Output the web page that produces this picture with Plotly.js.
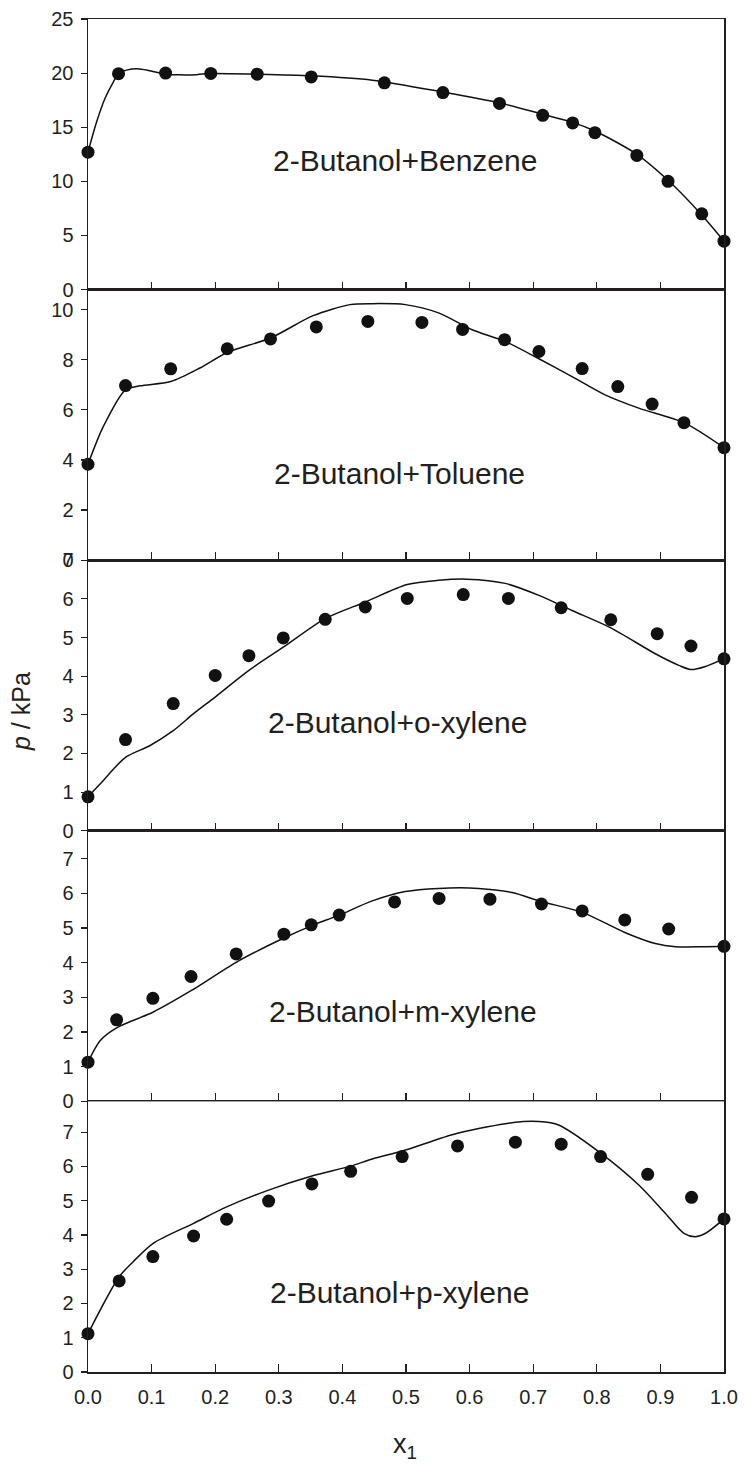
<!DOCTYPE html>
<html>
<head>
<meta charset="utf-8">
<script src="https://cdn.plot.ly/plotly-3.0.1.min.js"></script>
<style>
  html, body { margin: 0; padding: 0; background: #fff; }
  #chart { width: 744px; height: 1464px; }
</style>
</head>
<body>
<div id="chart"></div>
<script>
// ---- Data ----
const systemNames = ["2-Butanol+Benzene", "2-Butanol+Toluene", "2-Butanol+o-xylene", "2-Butanol+m-xylene", "2-Butanol+p-xylene"];
const xTickVals = [0, 0.1, 0.2, 0.3, 0.4, 0.5, 0.6, 0.7, 0.8, 0.9, 1.0];
const xTickText = ["0.0", "0.1", "0.2", "0.3", "0.4", "0.5", "0.6", "0.7", "0.8", "0.9", "1.0"];

// Benzene
const benzeneX = [0.0, 0.048, 0.122, 0.193, 0.266, 0.351, 0.466, 0.558, 0.647, 0.715, 0.762, 0.797, 0.863, 0.912, 0.965, 1.0];
const benzeneP = [12.7, 19.95, 20.0, 19.97, 19.9, 19.65, 19.1, 18.2, 17.2, 16.1, 15.4, 14.5, 12.4, 10.0, 7.0, 4.47];
const benzeneFitX = [0.0, 0.0136, 0.027, 0.040, 0.049, 0.062, 0.077, 0.095, 0.122, 0.145, 0.171, 0.193, 0.266, 0.351, 0.447, 0.558, 0.647, 0.715, 0.762, 0.797, 0.863, 0.912, 0.965, 1.0];
const benzeneFitP = [12.7, 15.5, 17.7, 19.2, 20.0, 20.3, 20.4, 20.25, 19.9, 19.84, 19.86, 19.97, 19.9, 19.75, 19.35, 18.25, 17.25, 16.2, 15.45, 14.65, 12.5, 10.1, 6.9, 4.47];

// Toluene
const tolueneX = [0.0, 0.059, 0.130, 0.219, 0.287, 0.359, 0.440, 0.525, 0.589, 0.655, 0.709, 0.777, 0.833, 0.887, 0.937, 1.0];
const tolueneP = [3.83, 6.97, 7.64, 8.44, 8.83, 9.31, 9.53, 9.49, 9.21, 8.8, 8.33, 7.65, 6.93, 6.23, 5.49, 4.49];
const tolueneFitX = [0.0, 0.024, 0.059, 0.082, 0.130, 0.176, 0.219, 0.287, 0.354, 0.412, 0.447, 0.499, 0.551, 0.604, 0.656, 0.709, 0.761, 0.813, 0.866, 0.937, 1.0];
const tolueneFitP = [3.83, 5.33, 6.8, 6.96, 7.13, 7.67, 8.29, 8.87, 9.76, 10.2, 10.24, 10.2, 9.87, 9.2, 8.73, 8.04, 7.33, 6.6, 6.07, 5.49, 4.49];

// o-xylene
const oXyleneX = [0.0, 0.059, 0.134, 0.200, 0.253, 0.307, 0.373, 0.436, 0.502, 0.590, 0.661, 0.744, 0.822, 0.895, 0.948, 1.0];
const oXyleneP = [0.88, 2.36, 3.29, 4.02, 4.53, 4.99, 5.47, 5.79, 6.01, 6.11, 6.01, 5.77, 5.46, 5.10, 4.78, 4.45];
const oXyleneFitX = [0.0, 0.019, 0.059, 0.097, 0.134, 0.166, 0.200, 0.253, 0.307, 0.373, 0.436, 0.502, 0.551, 0.596, 0.656, 0.709, 0.761, 0.822, 0.892, 0.929, 0.948, 0.971, 1.0];
const oXyleneFitP = [0.88, 1.21, 1.90, 2.2, 2.59, 3.03, 3.46, 4.15, 4.75, 5.49, 5.92, 6.37, 6.48, 6.51, 6.40, 6.09, 5.70, 5.25, 4.58, 4.28, 4.17, 4.25, 4.45];

// m-xylene
const mXyleneX = [0.0, 0.045, 0.102, 0.162, 0.233, 0.308, 0.351, 0.395, 0.482, 0.552, 0.632, 0.713, 0.777, 0.844, 0.913, 1.0];
const mXyleneP = [1.13, 2.35, 2.97, 3.60, 4.25, 4.82, 5.09, 5.37, 5.75, 5.85, 5.83, 5.69, 5.49, 5.23, 4.97, 4.47];
const mXyleneFitX = [0.0, 0.019, 0.045, 0.102, 0.162, 0.233, 0.308, 0.351, 0.395, 0.447, 0.499, 0.551, 0.614, 0.667, 0.713, 0.777, 0.844, 0.892, 0.924, 0.971, 1.0];
const mXyleneFitP = [1.13, 1.75, 2.12, 2.57, 3.19, 4.01, 4.71, 5.06, 5.37, 5.78, 6.05, 6.14, 6.14, 6.02, 5.76, 5.45, 4.87, 4.55, 4.46, 4.46, 4.47];

// p-xylene
const pXyleneX = [0.0, 0.049, 0.102, 0.166, 0.218, 0.284, 0.352, 0.413, 0.494, 0.581, 0.672, 0.744, 0.806, 0.880, 0.949, 1.0];
const pXyleneP = [1.12, 2.66, 3.37, 3.97, 4.46, 4.99, 5.49, 5.86, 6.29, 6.60, 6.71, 6.65, 6.29, 5.77, 5.10, 4.47];
const pXyleneFitX = [0.0, 0.049, 0.071, 0.102, 0.166, 0.218, 0.284, 0.352, 0.413, 0.447, 0.494, 0.581, 0.672, 0.709, 0.740, 0.806, 0.866, 0.908, 0.937, 0.955, 0.971, 1.0];
const pXyleneFitP = [1.12, 2.78, 3.22, 3.75, 4.34, 4.82, 5.31, 5.72, 6.01, 6.22, 6.45, 6.97, 7.29, 7.31, 7.21, 6.39, 5.46, 4.63, 4.05, 3.95, 4.05, 4.47];

// y-axis ranges and tick steps per panel (top to bottom)
const yRanges = [[0, 25], [0, 10.8], [0, 7], [0, 7.8], [0, 7.9]];
const yDticks = [5, 2, 1, 1, 1];

const expX = [benzeneX, tolueneX, oXyleneX, mXyleneX, pXyleneX];
const expP = [benzeneP, tolueneP, oXyleneP, mXyleneP, pXyleneP];
const fitX = [benzeneFitX, tolueneFitX, oXyleneFitX, mXyleneFitX, pXyleneFitX];
const fitP = [benzeneFitP, tolueneFitP, oXyleneFitP, mXyleneFitP, pXyleneFitP];

// label positions (data coords) for each panel annotation
const labelPos = [[0.498, 11.9], [0.489, 3.48], [0.486, 2.79], [0.495, 2.59], [0.49, 2.32]];

// ---- Build chart ----
const FONT = "Liberation Sans, Arial, Helvetica, sans-serif";
const AXC = "#231f20";
const traces = [];
const layout = {
  width: 744, height: 1464,
  margin: {l: 88, r: 20, t: 19, b: 92},
  paper_bgcolor: "#fff", plot_bgcolor: "#fff",
  showlegend: false,
  font: {family: FONT, color: AXC, size: 20},
  annotations: []
};

for (let i = 0; i < 5; i++) {
  const n = i + 1;
  const xa = n === 1 ? "x" : "x" + n;
  const ya = n === 1 ? "y" : "y" + n;
  const xKey = n === 1 ? "xaxis" : "xaxis" + n;
  const yKey = n === 1 ? "yaxis" : "yaxis" + n;
  traces.push({
    x: fitX[i], y: fitP[i], xaxis: xa, yaxis: ya, type: "scatter", mode: "lines",
    line: {color: "#111", width: 1.5, shape: "spline", smoothing: 0.8},
    cliponaxis: false, hoverinfo: "skip"
  });
  traces.push({
    x: expX[i], y: expP[i], xaxis: xa, yaxis: ya, type: "scatter", mode: "markers",
    marker: {color: "#111", size: 13, line: {width: 0}},
    cliponaxis: false
  });
  const top = 1 - i * 0.2;
  const bottom = top - 0.2;
  layout[yKey] = {
    domain: [Math.max(0, bottom), Math.min(1, top)],
    anchor: xa,
    range: yRanges[i],
    dtick: yDticks[i], tick0: 0,
    showgrid: false, zeroline: false,
    showline: true, linecolor: AXC, linewidth: 1.5, mirror: true,
    ticks: "outside", ticklen: 6, tickwidth: 1.2, tickcolor: AXC,
    ticklabelstandoff: 3,
    tickfont: {family: FONT, size: 20, color: AXC},
    fixedrange: true
  };
  layout[xKey] = {
    anchor: ya,
    range: [0, 1],
    tickvals: xTickVals, ticktext: xTickText,
    showticklabels: n === 5,
    showgrid: false, zeroline: false,
    showline: true, linecolor: AXC, linewidth: 1.5, mirror: true,
    ticks: "inside", ticklen: 8, tickwidth: 1.2, tickcolor: AXC,
    ticklabelstandoff: 6,
    tickfont: {family: FONT, size: 20, color: AXC},
    fixedrange: true
  };
  layout.annotations.push({
    text: systemNames[i], xref: xa, yref: ya,
    x: labelPos[i][0], y: labelPos[i][1],
    xanchor: "center", yanchor: "middle", showarrow: false,
    font: {family: FONT, size: 30, color: AXC}
  });
}

layout.annotations.push({
  text: "<i>p</i> / kPa", xref: "paper", yref: "paper",
  x: 21, y: 712, xanchor: "center", yanchor: "middle", showarrow: false,
  textangle: -90, font: {family: FONT, size: 25, color: AXC}
});
layout.annotations.push({
  text: "x<sub>1</sub>", xref: "paper", yref: "paper",
  x: 405, y: 1446, xanchor: "center", yanchor: "middle", showarrow: false,
  font: {family: FONT, size: 27, color: AXC}
});

// convert pixel-based positions of the two axis-title annotations to paper coords
(function () {
  const plotH = 1464 - 19 - 92, plotW = 744 - 88 - 20;
  const k = layout.annotations.length;
  [layout.annotations[k - 2], layout.annotations[k - 1]].forEach(a => {
    a.x = (a.x - 88) / plotW;
    a.y = (1464 - 92 - a.y) / plotH;
  });
})();

Plotly.newPlot("chart", traces, layout, {displayModeBar: false, staticPlot: true});
</script>
</body>
</html>
